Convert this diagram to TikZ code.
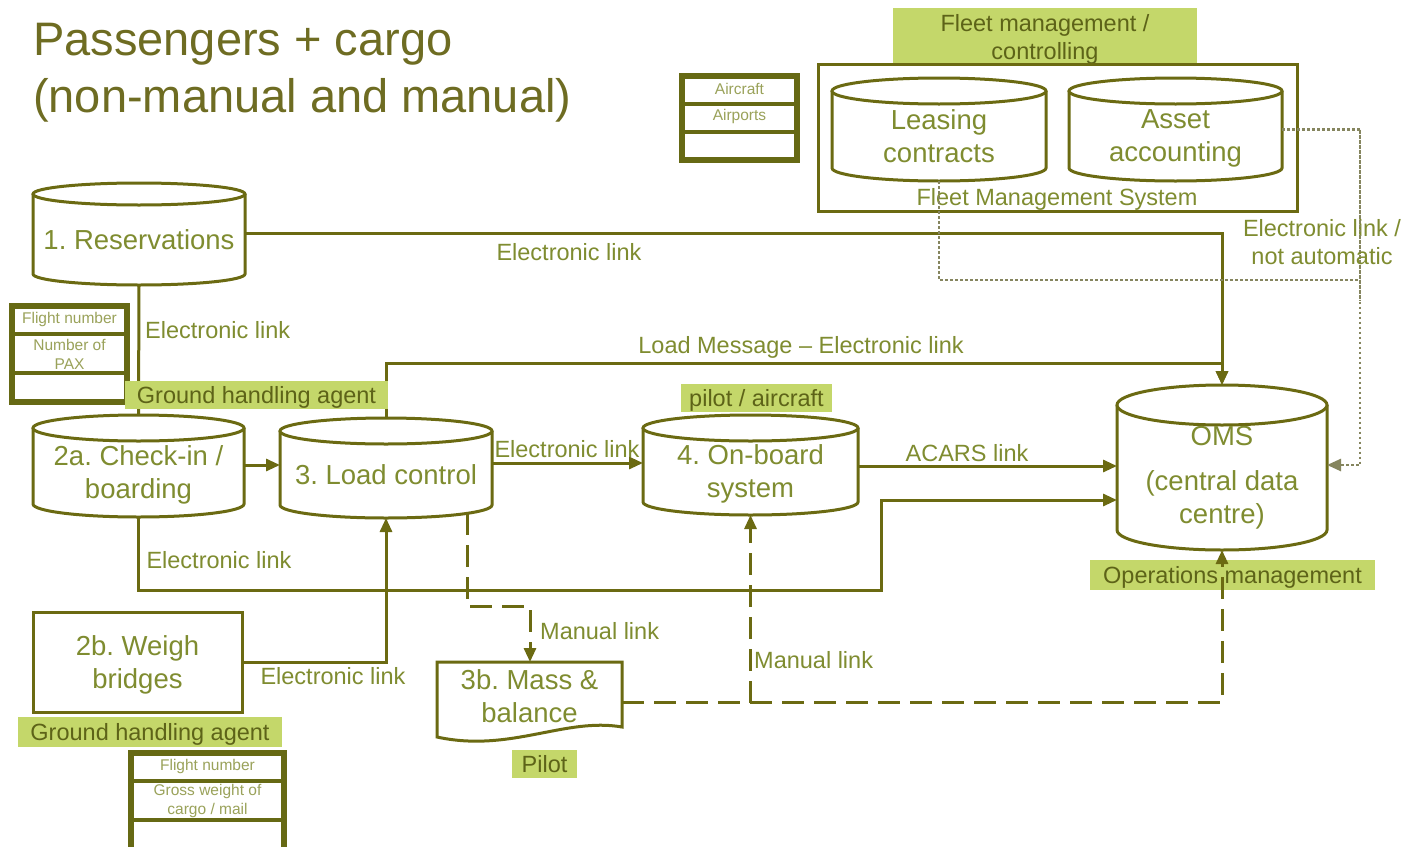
\documentclass[tikz,border=0pt]{standalone}
\usepackage{fontspec}
\setmainfont{Liberation Sans}
\usetikzlibrary{arrows.meta,calc}
\frenchspacing

\definecolor{olv}{HTML}{6B6A12}
\definecolor{tabline}{HTML}{666914}
\definecolor{olvtext}{HTML}{7F8C30}
\definecolor{roletext}{HTML}{5D6318}
\definecolor{hilite}{HTML}{C4D76A}
\definecolor{titlec}{HTML}{6E6C22}
\definecolor{tabtext}{HTML}{9AA25A}
\definecolor{dotc}{HTML}{85855E}

\tikzset{
  outline/.style={draw=olv, line width=3pt},
  link/.style={draw=olv, line width=3pt, -{Triangle[length=14pt,width=12pt]}},
  plainlink/.style={draw=olv, line width=3pt},
  manual/.style={link, dash pattern=on 22pt off 10pt},
  dotlink/.style={draw=dotc, line width=2.5pt, dash pattern=on 2.5pt off 2.5pt},
  dotarrow/.style={dotlink, -{Triangle[length=14pt,width=12pt]}},
  bodytext/.style={text=olvtext, font=\fontsize{27.5}{33}\selectfont, align=center, inner sep=0pt},
  linktext/.style={text=olvtext, font=\fontsize{23.5}{28}\selectfont, align=center, inner sep=0pt},
  rolebox/.style={fill=hilite, text=roletext, font=\fontsize{23.5}{28}\selectfont, align=center, inner sep=0pt, text depth=0pt},
  tabletext/.style={text=tabtext, font=\fontsize{15.5}{19}\selectfont, align=center, inner sep=0pt},
  tablebox/.style={draw=tabline, line width=6pt, inner sep=0pt},
  tablerule/.style={draw=tabline, line width=4pt},
  area/.style={inner sep=0pt, outer sep=0pt, draw=none},
  titletext/.style={text=titlec, font=\fontsize{47}{57}\selectfont, inner sep=0pt, anchor=base west},
}

% a line whose descenders do not count for centring
\newcommand\nodepth[1]{\raisebox{0pt}[\height][0pt]{#1}}

% database cylinder: name, left, top, right, bottom, cap half-height, text
\newcommand\dbcylinder[7]{%
  \path[outline, fill=white] (#2,{#3+#6}) -- (#2,{#5-#6})
    .. controls (#2,{#5-#6+0.5523*#6}) and ({(#2+#4)/2-0.5523*(#4-#2)/2},#5) .. ({(#2+#4)/2},#5)
    .. controls ({(#2+#4)/2+0.5523*(#4-#2)/2},#5) and (#4,{#5-#6+0.5523*#6}) .. (#4,{#5-#6})
    -- (#4,{#3+#6});
  \path[outline, fill=white] ({(#2+#4)/2},{#3+#6}) ellipse [x radius={(#4-#2)/2}, y radius=#6];
  \node[area, minimum width={(#4-#2)*1pt}, minimum height={(#5-#3)*1pt}] (#1) at ({(#2+#4)/2},{(#3+#5)/2}) {};
  \node[bodytext] (#1-text) at ({(#2+#4)/2},{#3+(#5-#3+#6)/2}) {#7};
}

\begin{document}
\begin{tikzpicture}[x=1pt, y=-1pt]
\useasboundingbox[fill=white] (0,0) rectangle (1408,846);

% title
\node[titletext] (title1) at (33,55) {Passengers + cargo};
\node[titletext] (title2) at (33,112) {(non-manual and manual)};

% aircraft / airports table
\node[tablebox, minimum width=115pt, minimum height=84pt] (tabac) at (739.5,118) {};
\draw[tablerule] (tabac.west |- 0,104) -- (tabac.east |- 0,104);
\draw[tablerule] (tabac.west |- 0,132) -- (tabac.east |- 0,132);
\node[tabletext] (tabac-1) at (739.5,89) {Aircraft};
\node[tabletext] (tabac-2) at (739.5,116) {Airports};

% fleet management system
\node[rolebox, minimum width=304pt, minimum height=57pt] (fleetrole) at (1045,36.5) {Fleet management /\\controlling};
\node[outline, area, draw=olv, minimum width=479pt, minimum height=147pt] (fms) at (1057.5,137.5) {};
\dbcylinder{lease}{832}{78}{1046}{181}{13}{Leasing\\contracts}
\dbcylinder{asset}{1069}{78}{1282}{181}{13}{Asset\\\nodepth{accounting}}
\node[linktext, text depth=0pt] (fms-text) at (1057,197) {Fleet Management System};

% process stores
\dbcylinder{res}{33}{183}{245}{285}{11}{1. Reservations}
\dbcylinder{ci}{33}{415}{244}{517}{13}{2a. Check-in /\\\nodepth{boarding}}
\dbcylinder{lc}{280}{418}{492}{518}{13}{3. Load control}
\dbcylinder{ob}{643}{415}{858}{515}{13}{4. On-board\\\nodepth{system}}
\dbcylinder{oms}{1117}{385}{1327}{550}{20}{OMS\\[12pt](central data\\centre)}

\node[outline, area, draw=olv, bodytext, minimum width=209pt, minimum height=100pt] (wb) at (137.5,662) {2b. Weigh\\\nodepth{bridges}};

% mass & balance document
\path[outline, fill=white] (437,662) -- (622,662) -- (622,727)
  .. controls (565,717) and (510,753) .. (437,737) -- cycle;
\node[area, minimum width=185pt, minimum height=81pt] (mb) at (529.5,702.5) {};
\node[bodytext] (mb-text) at (529.5,696) {3b. Mass \&\\balance};

% flight / passenger table
\node[tablebox, minimum width=115pt, minimum height=96pt] (tabpax) at (69.5,354) {};
\draw[tablerule] (tabpax.west |- 0,334) -- (tabpax.east |- 0,334);
\draw[tablerule] (tabpax.west |- 0,373) -- (tabpax.east |- 0,373);
\node[tabletext] (tabpax-1) at (69.5,319) {Flight number};
\node[tabletext] (tabpax-2) at (69.5,354) {Number of\\PAX};

% flight / cargo table
\coordinate (tabcg-bl) at (131,852);
\coordinate (tabcg-br) at (284,852);
\draw[tablerule, line width=6pt] (tabcg-bl) -- (131,753) -- (284,753) -- (tabcg-br);
\draw[tablerule] (131,781) -- (284,781);
\draw[tablerule] (131,820) -- (284,820);
\node[tabletext] (tabcg-1) at (207.5,766) {Flight number};
\node[tabletext] (tabcg-2) at (207.5,801) {Gross weight of\\cargo / mail};

% electronic links
\draw[link] (res.east |- 0,233) -| (oms.north);
\draw[plainlink] (res.south) -- (ci.north);
\draw[link] (lc.north) |- (1222,363) -- (oms.north);
\draw[link] (ci.east |- 0,465) -- (lc.west |- 0,465);
\draw[link] (lc.east |- 0,463) -- (ob.west |- 0,463);
\draw[link] (ob.east |- 0,466) -- (oms.west |- 0,466);
\draw[link] (ci.south) |- (881,590) |- (oms.west |- 0,500);
\draw[link] (wb.east |- 0,662) -| (lc.south);

% manual links
\draw[manual] ([xshift=81pt,yshift=4.6pt]lc.south) |- (530,606) -- (mb.north -| 530,0);
\draw[manual] (ob.south |- mb.east) -- (ob.south);

% non-automatic links from the fleet management system
\coordinate (dj) at (1360,465);
\draw[dotarrow] (asset.east) -| (dj) -- (oms.east |- dj);
\draw[dotlink] (lease.south) |- (dj |- 0,280);

% link labels
\node[linktext] (l-res) at (569,252) {Electronic link};
\node[linktext, anchor=west] (l-resci) at (145,330) {Electronic link};
\node[linktext] (l-load) at (801,347) {Load Message – Electronic link};
\node[linktext] (l-lcob) at (567,449) {Electronic link};
\node[linktext] (l-acars) at (967,453) {ACARS link};
\node[linktext] (l-ciom) at (219,560) {Electronic link};
\node[linktext] (l-wb) at (333,676) {Electronic link};
\node[linktext, anchor=west] (l-man1) at (540,631) {Manual link};
\node[linktext, anchor=west] (l-man2) at (754,660) {Manual link};

% roles
\node[rolebox, minimum width=263pt, minimum height=28pt] (gha1) at (256.5,395) {Ground handling agent};
\node[rolebox, minimum width=264pt, minimum height=30pt] (gha2) at (150,732) {Ground handling agent};
\node[rolebox, minimum width=151pt, minimum height=28pt] (pilotac) at (756.5,398) {pilot / aircraft};
\node[rolebox, minimum width=285pt, minimum height=30pt] (opsm) at (1232.5,575) {Operations management};
\node[rolebox, minimum width=65pt, minimum height=28pt] (pilot) at (544.5,764) {Pilot};

% manual link to operations, over its role label
\draw[manual] (mb.east) -| (oms.south);

% dotted link crosses its label
\node[linktext] (l-fleet) at (1322,242) {Electronic link /\\not automatic};
\draw[dotlink] (dj |- asset.east) -- (dj |- 0,300);
\end{tikzpicture}
\end{document}
